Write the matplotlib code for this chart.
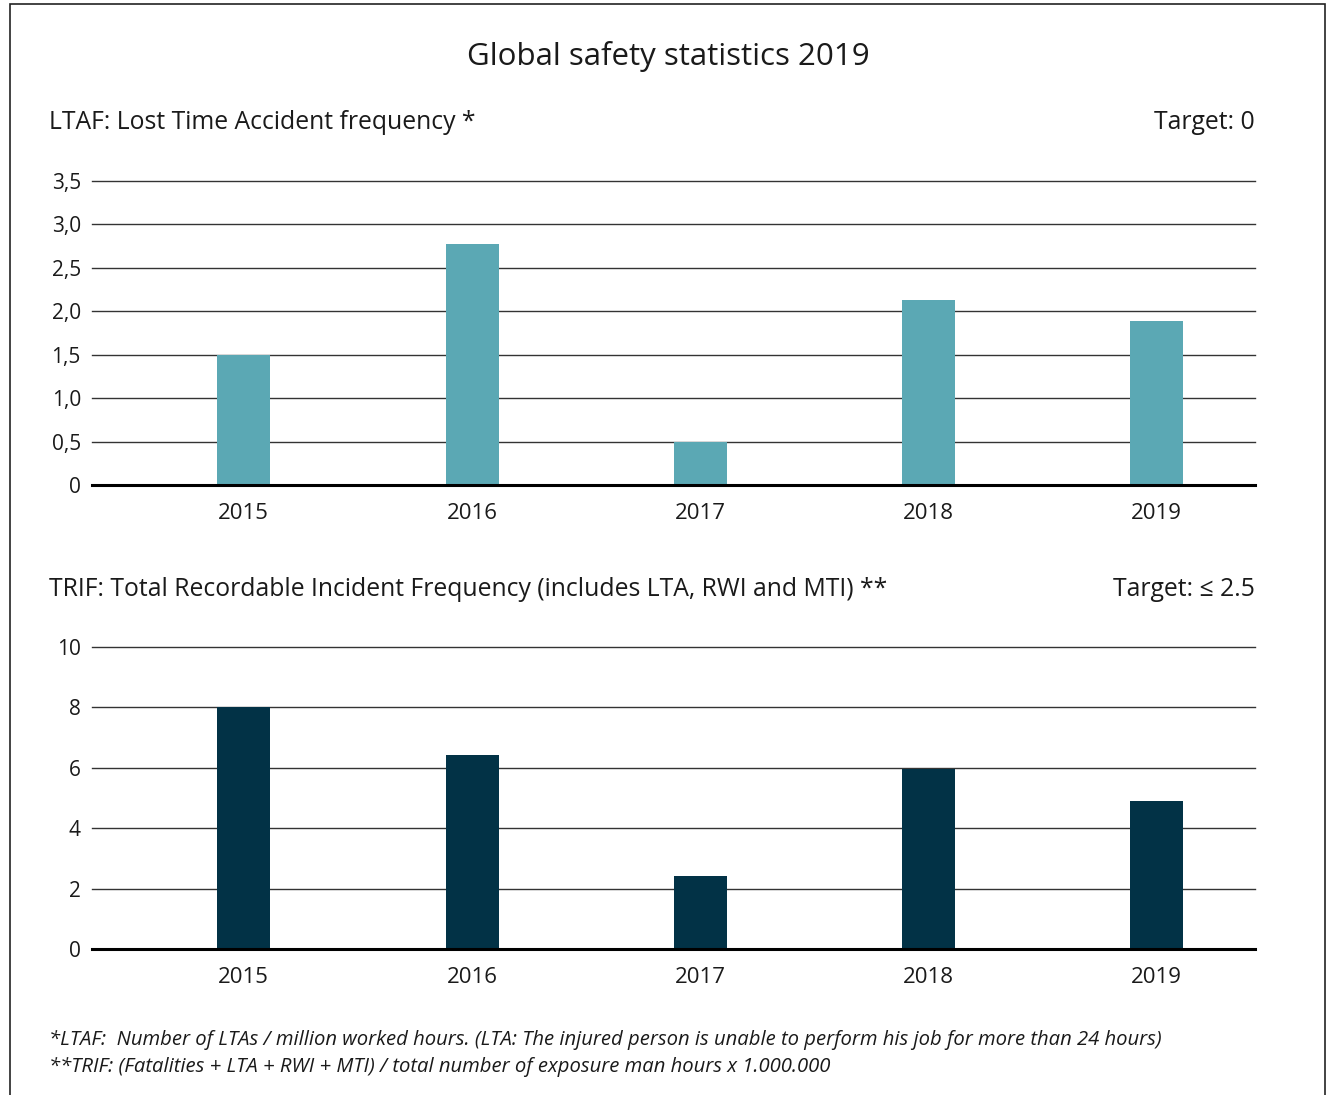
import matplotlib.pyplot as plt
from matplotlib.patches import Rectangle

years = ["2015", "2016", "2017", "2018", "2019"]
ltaf = [1.5, 2.77, 0.5, 2.13, 1.89]
trif = [8.0, 6.42, 2.42, 5.96, 4.9]
ltaf_ticks = [0, 0.5, 1.0, 1.5, 2.0, 2.5, 3.0, 3.5]
ltaf_ticklabels = ["0", "0,5", "1,0", "1,5", "2,0", "2,5", "3,0", "3,5"]
trif_ticks = [0, 2, 4, 6, 8, 10]

plt.rcParams['font.family'] = ['Open Sans', 'DejaVu Sans']
W, H = 1326, 1095
fig = plt.figure(figsize=(W / 100, H / 100), dpi=100)

# outer frame
fig.patches.append(Rectangle((10 / W, -0.01), (1325 - 10) / W, 1 - 4 / H + 0.01,
                             transform=fig.transFigure, fill=False,
                             edgecolor="#222222", linewidth=1.2))

fig.text(668 / W, 1 - 56 / H, "Global safety statistics 2019", ha="center", va="center",
         fontsize=22.5, color="#1a1a1a")


def panel(rect, values, color, ticks, ticklabels, ymax, title, target, title_y):
    ax = fig.add_axes(rect)
    x = list(range(len(years)))
    ax.bar(x, values, width=0.232, color=color, zorder=3)
    ax.set_xlim(-0.665, 4.43)
    ax.set_ylim(0, ymax)
    ax.set_yticks(ticks)
    ax.set_yticklabels(ticklabels)
    ax.set_xticks(x)
    ax.set_xticklabels(years)
    for t in ticks[1:]:
        ax.axhline(t, color="#333333", linewidth=1.0, zorder=1, clip_on=False)
    ax.axhline(0, color="black", linewidth=2.2, zorder=4, clip_on=False)
    for s in ax.spines.values():
        s.set_visible(False)
    ax.tick_params(axis="both", length=0, labelsize=15, colors="#1a1a1a")
    ax.tick_params(axis="y", pad=8)
    ax.tick_params(axis="x", pad=13, labelsize=16)
    fig.text(49 / W, 1 - title_y / H, title, ha="left", va="center", fontsize=17.8,
             color="#1a1a1a")
    fig.text(1255 / W, 1 - title_y / H, target, ha="right", va="center", fontsize=17.8,
             color="#1a1a1a")
    return ax


panel([92 / W, 1 - 485 / H, (1255 - 92) / W, (485 - 181) / H], ltaf, "#5BA8B4",
      ltaf_ticks, ltaf_ticklabels, 3.5, "LTAF: Lost Time Accident frequency *",
      "Target: 0", 122)
panel([92 / W, 1 - 949 / H, (1255 - 92) / W, (949 - 647) / H], trif, "#023246",
      trif_ticks, [str(t) for t in trif_ticks], 10,
      "TRIF: Total Recordable Incident Frequency (includes LTA, RWI and MTI) **",
      "Target: \u2264 2.5", 589)

fig.text(49 / W, 1 - 1040 / H,
         "*LTAF:  Number of LTAs / million worked hours. (LTA: The injured person is unable to perform his job for more than 24 hours)",
         ha="left", va="center", fontsize=14.6, style="italic", color="#1a1a1a")
fig.text(49 / W, 1 - 1067 / H,
         "**TRIF: (Fatalities + LTA + RWI + MTI) / total number of exposure man hours x 1.000.000",
         ha="left", va="center", fontsize=14.6, style="italic", color="#1a1a1a")

fig.savefig("out.png", dpi=100, facecolor="white")
